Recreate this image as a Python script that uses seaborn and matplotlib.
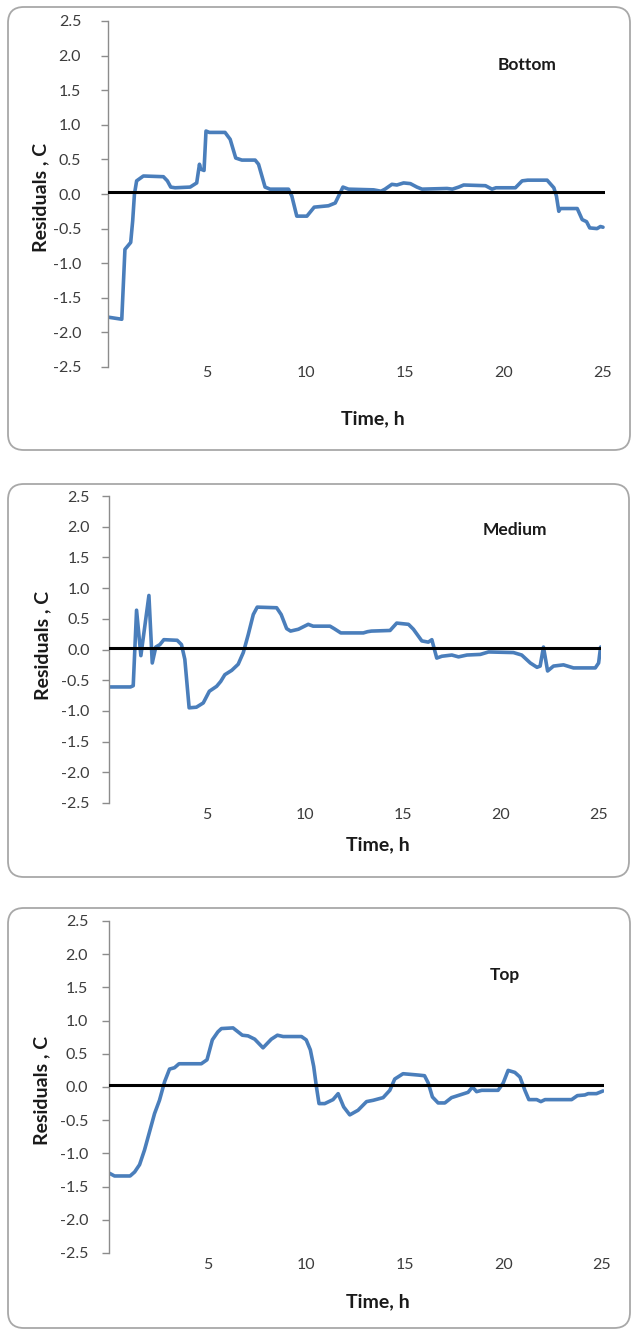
import matplotlib
matplotlib.use("Agg")
import matplotlib.pyplot as plt
import pandas as pd
import seaborn as sns
from matplotlib.patches import FancyBboxPatch

# Residuals of the three sensor depths over the run (time in h, residual in C)
bottom_time = [0.04, 0.72, 0.88, 1.17, 1.27, 1.36, 1.47, 1.81, 2.82, 3.02, 3.19, 3.41,
               4.17, 4.50, 4.64, 4.70, 4.87, 4.97, 5.14, 5.93, 6.19, 6.47, 6.78, 7.45,
               7.62, 7.95, 8.20, 9.13, 9.30, 9.55, 10.06, 10.43, 11.15, 11.49, 11.88,
               12.16, 13.43, 13.80, 14.00, 14.35, 14.60, 14.94, 15.28, 15.61, 15.87,
               17.13, 17.40, 17.72, 17.97, 19.07, 19.40, 19.60, 20.58, 20.92, 21.20,
               22.18, 22.52, 22.65, 22.77, 22.85, 23.70, 23.95, 24.17, 24.33, 24.70,
               24.87, 25.00]
bottom_resid = [-1.78, -1.81, -0.80, -0.70, -0.39, 0.00, 0.19, 0.26, 0.25, 0.19, 0.10, 0.09,
                0.10, 0.16, 0.43, 0.36, 0.34, 0.91, 0.89, 0.89, 0.79, 0.52, 0.49, 0.49,
                0.43, 0.10, 0.07, 0.07, -0.03, -0.32, -0.32, -0.19, -0.17, -0.13, 0.10,
                0.07, 0.06, 0.04, 0.07, 0.14, 0.13, 0.16, 0.15, 0.10, 0.07,
                0.08, 0.07, 0.10, 0.13, 0.12, 0.07, 0.09, 0.09, 0.19, 0.20,
                0.20, 0.09, -0.03, -0.25, -0.21, -0.21, -0.37, -0.40, -0.49, -0.50,
                -0.47, -0.48]

medium_time = [0.07, 1.12, 1.26, 1.43, 1.65, 2.06, 2.23, 2.41, 2.62, 2.82, 3.50, 3.72,
               3.89, 4.11, 4.48, 4.83, 5.14, 5.51, 5.72, 5.93, 6.28, 6.61, 6.87, 7.12,
               7.38, 7.58, 8.57, 8.80, 9.08, 9.28, 9.68, 10.18, 10.43, 11.29, 11.50,
               11.84, 12.99, 13.20, 13.40, 14.35, 14.69, 15.29, 15.54, 15.97, 16.30,
               16.48, 16.73, 16.99, 17.50, 17.84, 18.27, 18.95, 19.37, 20.64, 21.06,
               21.50, 21.84, 22.00, 22.17, 22.38, 22.68, 23.19, 23.70, 24.81, 24.98,
               25.08]
medium_resid = [-0.61, -0.61, -0.59, 0.64, -0.10, 0.88, -0.22, 0.04, 0.08, 0.16, 0.15, 0.08,
                -0.16, -0.95, -0.94, -0.87, -0.68, -0.60, -0.52, -0.41, -0.34, -0.24, -0.05,
                0.24, 0.57, 0.69, 0.68, 0.57, 0.34, 0.30, 0.33, 0.41, 0.38, 0.38, 0.34,
                0.27, 0.27, 0.29, 0.30, 0.31, 0.43, 0.41, 0.33, 0.14, 0.12,
                0.16, -0.14, -0.11, -0.09, -0.12, -0.09, -0.08, -0.04, -0.05, -0.09,
                -0.22, -0.29, -0.27, 0.04, -0.35, -0.27, -0.25, -0.30, -0.30, -0.22,
                0.04]

top_time = [0.03, 0.28, 1.07, 1.30, 1.55, 1.80, 2.06, 2.31, 2.56, 2.82, 3.07, 3.32,
            3.55, 4.68, 4.97, 5.24, 5.52, 5.70, 6.29, 6.46, 6.76, 7.05, 7.39, 7.81,
            8.23, 8.54, 8.83, 9.76, 10.00, 10.21, 10.38, 10.52, 10.65, 10.94, 11.36,
            11.62, 11.90, 12.21, 12.63, 13.06, 13.40, 13.90, 14.24, 14.49, 14.91,
            15.68, 16.00, 16.19, 16.40, 16.69, 17.03, 17.37, 17.79, 18.21, 18.43,
            18.64, 18.90, 19.73, 19.99, 20.24, 20.58, 20.84, 21.09, 21.29, 21.69,
            21.90, 22.11, 23.46, 23.75, 24.13, 24.30, 24.72, 25.05]
top_resid = [-1.30, -1.34, -1.34, -1.28, -1.17, -0.95, -0.67, -0.40, -0.20, 0.08, 0.27, 0.29,
             0.35, 0.35, 0.41, 0.71, 0.83, 0.88, 0.89, 0.85, 0.78, 0.77, 0.72, 0.59,
             0.72, 0.78, 0.76, 0.76, 0.71, 0.56, 0.31, 0.00, -0.25, -0.25, -0.19,
             -0.10, -0.30, -0.42, -0.35, -0.22, -0.20, -0.16, -0.05, 0.12, 0.20,
             0.18, 0.17, 0.06, -0.15, -0.24, -0.24, -0.16, -0.12, -0.08, 0.00,
             -0.07, -0.05, -0.05, 0.06, 0.25, 0.22, 0.15, -0.05, -0.19, -0.19,
             -0.22, -0.19, -0.19, -0.13, -0.12, -0.10, -0.10, -0.06]

panel_names = ["Bottom", "Medium", "Top"]
y_ticks = [2.5, 2.0, 1.5, 1.0, 0.5, 0.0, -0.5, -1.0, -1.5, -2.0, -2.5]
x_ticks = [5, 10, 15, 20, 25]
reference_level = 0.03

sns.set_theme(style="white")
plt.rcParams["font.family"] = ["Lato", "DejaVu Sans"]
plt.rcParams["axes.unicode_minus"] = False

W, H = 634, 1330
fig = plt.figure(figsize=(W / 100, H / 100), dpi=100)
fig.patch.set_facecolor("white")

X_MAX = 25.1
LINE_BLUE = "#4a7ebb"
TEXT_DARK = "#1a1a1a"
TICK_TEXT = "#3c3c3c"
AXIS_GREY = "#8c8c8c"

# pixel layout of each chart: frame box, plot area, label anchors, paddings
layout = [
    dict(frame=(8, 7, 630, 450), x0=107.5, x25=603, ytop=21, ybot=367,
         name_xy=(527, 65), xlabel_xy=(373, 419), ylabel_xy=(41, 197),
         ypad=14.0, xpad=-1.0),
    dict(frame=(8, 484, 629, 877), x0=108.5, x25=599, ytop=496, ybot=803,
         name_xy=(515, 530), xlabel_xy=(378, 845), ylabel_xy=(43, 645),
         ypad=8.6, xpad=3.6),
    dict(frame=(8, 908, 630, 1328), x0=109, x25=602, ytop=921, ybot=1253,
         name_xy=(505, 975), xlabel_xy=(378, 1302), ylabel_xy=(42, 1090),
         ypad=10.0, xpad=3.6),
]

series = [(bottom_time, bottom_resid), (medium_time, medium_resid), (top_time, top_resid)]

for name, (t, r), L in zip(panel_names, series, layout):
    fx0, fy0, fx1, fy1 = L["frame"]
    frame = FancyBboxPatch((fx0 / W, 1 - fy1 / H), (fx1 - fx0) / W, (fy1 - fy0) / H,
                           boxstyle="round,pad=0,rounding_size=0.025",
                           transform=fig.transFigure, facecolor="none",
                           edgecolor="#a8a8a8", linewidth=1.3, zorder=-5,
                           mutation_aspect=W / H)
    fig.patches.append(frame)

    per_h = (L["x25"] - L["x0"]) / 25.0
    rect = [L["x0"] / W, 1 - L["ybot"] / H, per_h * X_MAX / W, (L["ybot"] - L["ytop"]) / H]
    ax = fig.add_axes(rect)
    ax.set_facecolor("none")
    ax.set_zorder(2)

    df = pd.DataFrame({"Time": t, "Residual": r})
    ax.axhline(reference_level, color="black", linewidth=2.2, zorder=3)
    sns.lineplot(data=df, x="Time", y="Residual", ax=ax, color=LINE_BLUE,
                 linewidth=2.6, estimator=None, sort=False, zorder=2,
                 solid_joinstyle="round", solid_capstyle="round")

    ax.set_xlim(0, X_MAX)
    ax.set_ylim(-2.5, 2.5)
    ax.set_yticks(y_ticks)
    ax.set_yticklabels([f"{v:.1f}" for v in y_ticks], fontsize=11.5, color=TICK_TEXT)
    ax.set_xticks(x_ticks)
    ax.set_xticklabels([str(v) for v in x_ticks], fontsize=11.5, color=TICK_TEXT)

    sns.despine(ax=ax, top=True, right=True, bottom=True, left=False)
    ax.spines["left"].set_color(AXIS_GREY)
    ax.spines["left"].set_linewidth(1.0)
    ax.tick_params(axis="y", direction="out", length=5, width=1.0, color=AXIS_GREY,
                   pad=L["ypad"], left=True)
    ax.tick_params(axis="x", length=0, pad=L["xpad"])
    ax.grid(False)

    ax.set_xlabel("Time, h", fontsize=14, fontweight="bold", color=TEXT_DARK)
    ax.xaxis.set_label_coords(L["xlabel_xy"][0] / W, 1 - L["xlabel_xy"][1] / H,
                              transform=fig.transFigure)
    ax.xaxis.label.set_va("center")
    ax.set_ylabel("Residuals , C", fontsize=14, fontweight="bold", color=TEXT_DARK)
    ax.yaxis.set_label_coords(L["ylabel_xy"][0] / W, 1 - L["ylabel_xy"][1] / H,
                              transform=fig.transFigure)
    ax.yaxis.label.set_va("center")

    fig.text(L["name_xy"][0] / W, 1 - L["name_xy"][1] / H, name, fontsize=12.5,
             fontweight="bold", color=TEXT_DARK, ha="center", va="center")

fig.savefig("out.png", dpi=100, facecolor="white")
